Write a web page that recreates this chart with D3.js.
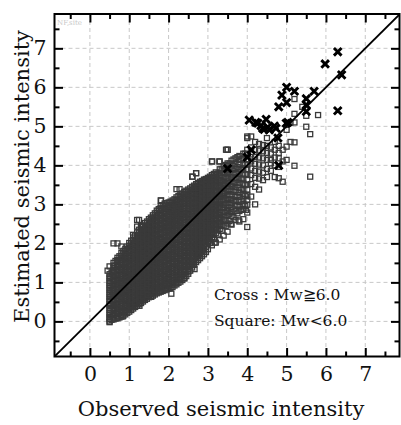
<!DOCTYPE html>
<html>
<head>
<meta charset="utf-8">
<script src="https://cdn.jsdelivr.net/npm/d3@7"></script>
<style>
  body { margin: 0; background: #fff; }
  text { font-family: "DejaVu Serif", serif; fill: #111; }
</style>
</head>
<body>
<script>
  // Mw<6.0 records (squares): observed intensity columns, estimated values in hundredths
  const squareObs = [0.5, 0.6, 0.7, 0.8, 0.9, 1.0, 1.1, 1.2, 1.3, 1.4, 1.5, 1.6, 1.7, 1.8, 1.9,
    2.0, 2.1, 2.2, 2.3, 2.4, 2.5, 2.6, 2.7, 2.8, 2.9, 3.0, 3.1, 3.2, 3.3, 3.4, 3.5, 3.6, 3.7,
    3.8, 3.9, 4.0, 4.1, 4.2, 4.3, 4.4, 4.5, 4.6, 4.7, 4.8, 4.9, 5.0, 5.1, 5.2, 5.4, 5.5, 5.6, 5.8];

  const squareEst = [
    "0 6 11 17 22 29 34 40 45 52 57 63 69 74 81 86 92 98 103 110 115 121 141",
    "5 10 16 21 27 34 39 44 50 57 62 68 73 80 85 90 96 103 108 113 119 126 131 136 143 150 200",
    "8 13 19 26 31 36 43 48 53 59 66 71 76 82 89 94 100 105 112 117 122 128 135 140 146 153 157 163 200",
    "12 17 23 30 35 40 46 53 58 63 69 76 81 86 92 99 104 109 115 122 127 132 139 144 150 157 162 168 175 192",
    "18 24 29 35 42 47 52 58 65 70 75 81 88 93 98 104 111 116 121 128 133 139 146 151 156 162 169 174 180 186",
    "25 31 36 42 49 54 59 65 72 77 82 88 95 100 105 112 117 122 129 135 140 146 153 158 163 170 176 181 188 194 201",
    "33 38 45 50 55 62 68 73 78 85 91 96 101 108 114 119 124 131 137 142 147 154 160 165 171 178 183 189 196 201 208 215 222",
    "40 46 51 57 64 69 74 80 87 92 97 103 110 115 120 126 133 138 143 150 155 160 167 173 178 185 190 195 202 208 214 221 228 243 260",
    "47 52 58 65 70 75 81 88 93 98 104 111 116 121 127 134 139 144 151 156 161 168 174 179 186 191 196 203 209 214 222 228 235 242",
    "55 60 67 72 77 84 90 95 100 107 113 118 123 130 136 141 147 153 158 165 171 176 182 188 193 200 206 211 218 225 230 238 245 252",
    "62 67 73 80 85 90 96 103 108 113 120 125 130 137 143 148 155 160 165 172 178 183 190 196 201 208 214 219 226 232 238 245 251 256 262",
    "66 72 77 84 89 94 101 107 112 117 124 130 135 141 147 152 159 165 170 176 182 187 194 200 205 212 218 223 230 236 241 248 254 259 266 272",
    "72 77 84 89 95 100 107 113 118 123 130 136 141 147 153 158 165 171 176 182 188 193 200 206 211 218 224 229 236 242 247 254 260 265 272 278 284",
    "76 82 87 94 99 104 111 117 122 128 134 139 146 152 157 164 169 175 181 186 193 199 204 211 217 222 229 235 240 247 253 258 265 271 276 284 290 296 310",
    "80 85 92 98 103 110 115 120 127 133 138 145 151 156 162 168 173 180 186 191 198 204 209 216 222 227 234 240 245 252 258 263 270 276 281 289 295 302",
    "84 90 95 102 108 113 119 126 131 136 143 149 154 161 167 172 179 185 190 197 203 208 215 221 226 233 239 244 251 257 262 269 275 280 287 293 298 305",
    "88 94 99 106 112 117 124 130 135 142 148 153 160 166 171 178 184 189 196 202 207 214 220 225 232 238 243 250 256 261 268 274 279 286 292 297 304 310",
    "95 100 107 113 118 125 131 136 143 149 154 161 167 172 179 185 190 197 203 208 215 221 226 233 239 244 251 257 262 269 275 280 287 293 298 305 311 318 339",
    "102 108 113 120 126 131 138 144 149 156 162 167 174 180 185 192 198 203 210 216 221 228 234 239 246 252 257 264 270 275 282 288 293 300 306 313 319 325",
    "110 116 121 128 134 139 146 152 157 164 170 175 182 188 193 200 206 211 218 224 229 236 242 247 254 260 265 272 278 283 290 296 301 308 314 320 326 332",
    "122 128 133 140 146 151 158 164 169 176 182 187 194 200 205 212 218 223 230 236 241 248 254 259 266 272 277 284 290 295 302 308 313 320 326 332 338",
    "138 145 150 157 163 169 176 182 187 195 201 206 213 220 225 232 238 244 251 257 262 270 276 281 288 295 300 307 313 319 326 332 337 345 371",
    "152 158 165 171 176 184 190 195 203 209 214 222 228 233 241 247 252 260 266 271 279 285 290 298 304 309 317 323 328 336 342 348 352 380",
    "162 169 174 182 188 194 201 208 213 221 227 233 240 247 252 260 266 272 279 286 291 299 305 311 318 325 330 338 344 351 358",
    "172 179 184 192 198 204 212 218 223 231 238 244 251 258 263 271 278 284 291 297 302 311 317 323 330 337 342 350 357 363",
    "185 202 211 219 226 231 239 246 252 260 266 272 280 287 293 300 307 313 321 328 333 341 348 354 362 368",
    "195 216 223 229 237 244 250 258 265 271 279 286 292 300 307 313 321 328 334 342 349 355 363 369 375 410",
    "202 226 234 241 250 258 265 274 282 289 298 306 313 322 330 337 346 354 361 370 376 382",
    "210 237 246 254 264 273 281 291 300 308 318 327 335 345 354 362 372 381 390 410",
    "220 246 260 269 280 290 299 310 320 329 340 350 359 370 380 389 398",
    "230 251 272 283 292 304 314 324 335 346 355 367 377 387 398 405 440",
    "248 270 280 292 303 313 325 336 346 358 369 379 391 402 412",
    "260 283 296 308 319 332 344 355 368 380 391 404 418",
    "256 283 294 307 319 330 343 355 366 379 391 402 415 424",
    "262 288 300 314 327 339 353 366 378 392 405 417 430",
    "242 279 299 312 324 338 351 363 377 390 402 416 428 440 470 474",
    "320 352 375 392 410 428 446 474",
    "300 345 368 386 404 422 440 460",
    "338 366 384 402 420 438 455",
    "362 381 400 418 436 452",
    "370 391 414 432 450 470",
    "386 405 414 430 446",
    "370 400 420 440 460",
    "367 396 418 432 450",
    "358 410 440",
    "414 448 491",
    "460 510",
    "399 459 510 532 570",
    "550",
    "499 527",
    "371 480",
    "529"
  ];

  // squares read between the 0.1 columns (observed x.x5)
  const squareObsMid = [0.55, 0.65, 0.75, 0.85, 0.95, 1.05, 1.15, 1.25, 1.35, 1.45, 1.55, 1.65,
    1.75, 1.85, 1.95, 2.05, 2.15, 2.25, 2.35, 2.45, 2.55, 2.65, 2.75, 2.85, 2.95, 3.05, 3.15,
    3.25, 3.35, 3.45, 3.55, 3.65, 3.75, 3.85, 3.95];

  const squareEstMid = [
    "4 16 29 42 53 66 79 90 103 116 125",
    "7 20 31 44 57 68 81 94 105 118 131 142 155",
    "10 23 34 47 60 71 84 97 108 121 134 145 158 167",
    "15 26 40 53 64 77 90 101 114 127 138 151 164 174 181",
    "22 35 46 59 72 83 96 109 120 133 146 157 170 183 192",
    "29 40 54 67 78 91 104 115 128 141 152 165 178 188 200 207",
    "37 50 61 74 87 98 111 124 135 148 161 172 185 198 209 220",
    "44 55 69 82 93 106 119 130 143 156 167 180 193 204 217 228 235",
    "51 64 75 88 101 112 125 138 149 162 175 186 199 212 223 236 246",
    "58 69 83 96 107 120 133 144 157 170 181 194 207 218 231 244 256",
    "64 77 88 101 114 125 138 151 162 175 188 199 212 225 236 249 260 266",
    "69 80 94 107 118 131 144 155 168 181 192 205 218 229 242 255 266 277",
    "74 87 98 111 124 135 148 161 172 185 198 209 222 235 246 259 272 283 288",
    "78 89 103 116 127 140 153 164 177 190 201 214 227 238 251 264 275 288 298",
    "82 95 106 119 132 143 156 169 180 193 206 217 230 243 254 267 280 291 303",
    "86 97 111 124 135 148 161 172 185 198 209 222 235 246 259 272 283 296 307",
    "92 105 116 129 142 153 166 179 190 203 216 227 240 253 264 277 290 301 313",
    "99 110 124 137 148 161 174 185 198 211 222 235 248 259 272 285 296 309 321",
    "106 119 130 143 156 167 180 193 204 217 230 241 254 267 278 291 304 315 328",
    "116 127 141 154 165 178 191 202 215 228 239 252 265 276 289 302 313 326 335",
    "130 143 154 167 180 191 204 217 228 241 254 265 278 291 302 315 328 341",
    "145 156 170 183 194 207 220 231 244 257 268 281 294 305 318 331 342 348",
    "157 170 181 194 207 218 231 244 255 268 281 292 305 318 329 342 355",
    "167 178 192 205 216 229 242 253 266 279 290 303 316 327 340 353 360",
    "178 191 202 215 228 239 252 265 276 289 302 313 326 339 350 365",
    "201 215 228 239 252 265 276 289 302 313 326 339 350 363 371",
    "211 222 235 248 259 272 285 296 309 322 333 346 359 370 378",
    "221 234 249 264 277 292 307 320 335 350 363 379",
    "232 246 263 280 294 311 328 342 359 376 391",
    "244 260 279 298 314 333 352 368 387 401",
    "257 276 298 320 339 361 383 405",
    "267 287 310 333 353 376 399 415",
    "277 299 324 349 371 396 421",
    "286 310 337 364 388 415",
    "296 321 349 377 402 430"
  ];

  // scattered squares round the edge of the cloud: [observed, estimated]
  const squareExtra = [
    [0.45, 1.30], [1.25, 2.60], [1.30, 2.45], [1.81, 3.10], [2.28, 3.39], [2.61, 3.71],
    [2.70, 3.80], [2.91, 3.63], [3.11, 4.10], [3.29, 4.10], [3.46, 4.40], [3.50, 4.40],
    [2.40, 1.11], [2.61, 1.50], [2.66, 1.34], [2.74, 1.71], [2.07, 0.71], [1.94, 0.85],
    [1.56, 0.63], [1.47, 0.68], [1.26, 0.40], [0.84, 0.13], [0.50, -0.02],
    [3.17, 2.02], [3.59, 2.50], [3.78, 2.59], [3.97, 2.86]
  ];

  // Mw>=6.0 records (crosses): [observed, estimated]
  const crossPts = [
    [6.30, 6.91], [5.98, 6.60], [6.40, 6.32], [6.30, 5.40],
    [5.00, 6.00], [5.20, 5.90], [4.88, 5.80], [5.00, 5.61], [4.80, 5.50],
    [5.70, 5.90], [5.50, 5.71], [5.50, 5.55], [5.50, 5.38],
    [4.05, 5.16], [4.22, 5.10], [4.48, 5.18], [4.35, 5.02], [4.52, 4.98],
    [4.69, 5.01], [4.99, 5.08], [4.43, 4.92], [4.27, 5.08], [4.39, 4.95],
    [4.56, 4.91], [4.73, 4.95], [5.03, 5.10], [4.78, 4.70], [4.10, 4.40],
    [4.00, 4.21], [4.80, 4.00], [3.50, 3.92]
  ];

  const majorTicks = [0, 1, 2, 3, 4, 5, 6, 7];
  const minorTicks = [-0.5, 0.5, 1.5, 2.5, 3.5, 4.5, 5.5, 6.5, 7.5];
  const legendLines = ["Cross : Mw\u22676.0", "Square: Mw<6.0"];

  const width = 401, height = 425;
  const plot = { left: 54.5, right: 399.5, top: 14, bottom: 356.5 };

  const svg = d3.select("body").append("svg")
    .attr("width", width)
    .attr("height", height);

  const x = d3.scaleLinear().domain([-0.9, 7.87]).range([plot.left, plot.right]);
  const y = d3.scaleLinear().domain([-0.9, 7.88]).range([plot.bottom, plot.top]);

  svg.append("defs").append("clipPath").attr("id", "clip")
    .append("rect")
    .attr("x", plot.left).attr("y", plot.top)
    .attr("width", plot.right - plot.left).attr("height", plot.bottom - plot.top);

  // dashed grid
  const grid = svg.append("g").attr("stroke", "#c8c8c8").attr("stroke-dasharray", "4,3");
  grid.selectAll(".gx").data(majorTicks).enter().append("line")
    .attr("x1", d => x(d)).attr("x2", d => x(d))
    .attr("y1", plot.top).attr("y2", plot.bottom);
  grid.selectAll(".gy").data(majorTicks).enter().append("line")
    .attr("y1", d => y(d)).attr("y2", d => y(d))
    .attr("x1", plot.left).attr("x2", plot.right);

  // watermark
  svg.append("text")
    .attr("x", 57).attr("y", 25)
    .style("font-size", "7px").style("fill", "#c8c8c8")
    .text("NF,site");

  // squares
  const squares = [];
  squareObs.forEach((o, i) => {
    squareEst[i].split(" ").forEach(v => squares.push([o, +v / 100]));
  });
  squareObsMid.forEach((o, i) => {
    squareEstMid[i].split(" ").forEach(v => squares.push([o, +v / 100]));
  });
  squareExtra.forEach(p => squares.push(p));

  const body = svg.append("g").attr("clip-path", "url(#clip)");

  body.selectAll(".sq").data(squares).enter().append("rect")
    .attr("x", d => x(d[0]) - 2.5)
    .attr("y", d => y(d[1]) - 2.5)
    .attr("width", 5).attr("height", 5)
    .attr("fill", "none")
    .attr("stroke", "#3a3a3a")
    .attr("stroke-width", 1.3);

  // 1:1 line
  body.append("path")
    .datum([-0.9, 7.9])
    .attr("fill", "none")
    .attr("stroke", "#000")
    .attr("stroke-width", 1.8)
    .attr("d", d3.line().x(d => x(d)).y(d => y(d)));

  // crosses
  body.selectAll(".cr").data(crossPts).enter().append("path")
    .attr("transform", d => "translate(" + x(d[0]) + "," + y(d[1]) + ")")
    .attr("d", "M-3.8,-3.8L3.8,3.8M-3.8,3.8L3.8,-3.8")
    .attr("stroke", "#000")
    .attr("stroke-width", 2.9)
    .attr("fill", "none");

  // axes, ticks pointing inward
  function styleAxis(g) {
    g.select(".domain").remove();
    g.selectAll(".tick line").attr("stroke", "#000").attr("stroke-width", 2);
    g.selectAll(".tick text").style("font-size", "20.5px").attr("fill", "#111");
  }

  svg.append("g")
    .attr("transform", "translate(0," + plot.bottom + ")")
    .call(d3.axisBottom(x).tickValues(majorTicks).tickSizeInner(-8.5).tickSizeOuter(0).tickPadding(10).tickFormat(d3.format("d")))
    .call(styleAxis);
  svg.append("g")
    .attr("transform", "translate(0," + plot.bottom + ")")
    .call(d3.axisBottom(x).tickValues(minorTicks).tickSizeInner(-5).tickSizeOuter(0).tickFormat(""))
    .call(styleAxis);

  svg.append("g")
    .attr("transform", "translate(" + plot.left + ",0)")
    .call(d3.axisLeft(y).tickValues(majorTicks).tickSizeInner(-8.5).tickSizeOuter(0).tickPadding(8).tickFormat(d3.format("d")))
    .call(styleAxis);
  svg.append("g")
    .attr("transform", "translate(" + plot.left + ",0)")
    .call(d3.axisLeft(y).tickValues(minorTicks).tickSizeInner(-5).tickSizeOuter(0).tickFormat(""))
    .call(styleAxis);

  svg.append("g")
    .attr("transform", "translate(0," + plot.top + ")")
    .call(d3.axisTop(x).tickValues(majorTicks).tickSizeInner(-8.5).tickSizeOuter(0).tickFormat(""))
    .call(styleAxis);
  svg.append("g")
    .attr("transform", "translate(0," + plot.top + ")")
    .call(d3.axisTop(x).tickValues(minorTicks).tickSizeInner(-5).tickSizeOuter(0).tickFormat(""))
    .call(styleAxis);

  svg.append("g")
    .attr("transform", "translate(" + plot.right + ",0)")
    .call(d3.axisRight(y).tickValues(majorTicks).tickSizeInner(-8.5).tickSizeOuter(0).tickFormat(""))
    .call(styleAxis);
  svg.append("g")
    .attr("transform", "translate(" + plot.right + ",0)")
    .call(d3.axisRight(y).tickValues(minorTicks).tickSizeInner(-5).tickSizeOuter(0).tickFormat(""))
    .call(styleAxis);

  // frame
  svg.append("rect")
    .attr("x", plot.left).attr("y", plot.top)
    .attr("width", plot.right - plot.left).attr("height", plot.bottom - plot.top)
    .attr("fill", "none").attr("stroke", "#000").attr("stroke-width", 2);

  // legend text
  svg.selectAll(".leg").data(legendLines).enter().append("text")
    .attr("x", 214)
    .attr("y", (d, i) => 300 + i * 26)
    .style("font-size", "15.5px")
    .text(d => d);

  // axis titles
  svg.append("text")
    .attr("x", 221).attr("y", 416)
    .attr("text-anchor", "middle")
    .style("font-size", "21px")
    .text("Observed seismic intensity");

  svg.append("text")
    .attr("transform", "translate(29,176.5) rotate(-90)")
    .attr("text-anchor", "middle")
    .style("font-size", "21px")
    .text("Estimated seismic intensity");
</script>
</body>
</html>
